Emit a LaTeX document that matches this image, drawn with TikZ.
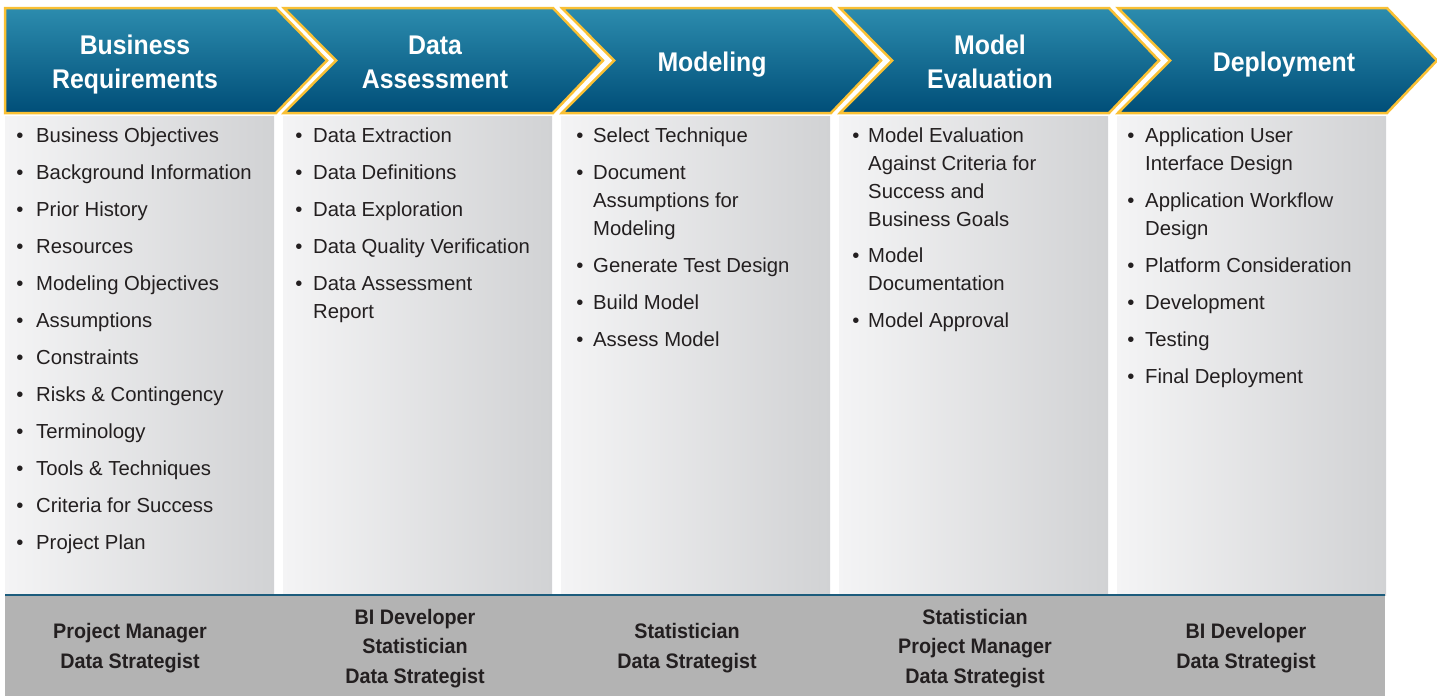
\documentclass[tikz,border=0pt]{standalone}
\usepackage{fontspec}
\setmainfont{Liberation Sans}
\definecolor{chevtop}{RGB}{44,140,174}
\definecolor{chevbot}{RGB}{0,78,120}
\definecolor{chevline}{RGB}{249,192,52}
\definecolor{colleft}{RGB}{244,244,245}
\definecolor{colright}{RGB}{209,210,212}
\definecolor{bandgray}{RGB}{179,179,179}
\definecolor{bandline}{RGB}{28,92,124}
\definecolor{inktext}{RGB}{35,31,32}
\newcommand{\toplines}[1]{\begin{tabular}[t]{@{}l@{}}#1\end{tabular}}
\tikzset{
  head/.style={text=white,font=\fontsize{27}{34}\selectfont\bfseries,align=center,xscale=0.92},
  item/.style={text=inktext,font=\fontsize{20.3}{28}\selectfont,anchor=base west,inner sep=0pt},
  dot/.style={text=inktext,font=\fontsize{20.3}{28}\selectfont,anchor=base,inner sep=0pt},
  role/.style={text=inktext,font=\fontsize{21}{29.5}\selectfont\bfseries,align=center,xscale=0.94},
  chev/.style={top color=chevtop,bottom color=chevbot,draw=chevline,line width=2.5pt,line join=miter},
}
\begin{document}
\begin{tikzpicture}[x=1pt,y=-1pt]
\useasboundingbox (0,0) rectangle (1437,696);
% grey columns
\foreach \i in {0,...,4}
  \shade[left color=colleft,right color=colright] (5+278*\i,116) rectangle (274+278*\i,595);
% bottom band
\fill[bandgray] (5,596) rectangle (1385,696);
\draw[bandline,line width=2.5pt] (5,595) -- (1385,595);
% chevrons
\shadedraw[chev] (5,8) -- (276,8) -- (327,60.5) -- (276,113) -- (5,113) -- cycle;
\foreach \i in {1,...,4}
  \shadedraw[chev] (6+278*\i,8) -- (275+278*\i,8) -- (325+278*\i,60.5) -- (275+278*\i,113)
    -- (6+278*\i,113) -- (58+278*\i,60.5) -- cycle;
% headings
\node[head] (br) at (135,65) {Business\\Requirements};
\node[head] (da) at (435,62) {Data\\Assessment};
\node[head] (mo) at (712,65) {Modeling};
\node[head] (me) at (990,62) {Model\\Evaluation};
\node[head] (de) at (1284,65) {Deployment};
% column 1
\foreach \t [count=\k from 0] in {Business Objectives,Background Information,Prior History,Resources,
    Modeling Objectives,Assumptions,Constraints,Risks \& Contingency,Terminology,
    Tools \& Techniques,Criteria for Success,Project Plan}{
  \node[dot] (bd\k) at (20,142.5+37*\k) {\textbullet};
  \node[item] (bi\k) at (36,142.5+37*\k) {\t};
}
% column 2
\foreach \y/\t [count=\k] in {135/Data Extraction,172/Data Definitions,209/Data Exploration,
    246/Data Quality Verification,283/Data Assessment\\Report}{
  \node[dot] (dd\k) at (299,\y+7.5) {\textbullet};
  \node[item] (di\k) at (313,\y+7.5) {\toplines{\t}};
}
% column 3
\foreach \y/\t [count=\k] in {135/Select Technique,172/Document\\Assumptions for\\Modeling,
    265/Generate Test Design,302/Build Model,339/Assess Model}{
  \node[dot] (md\k) at (580,\y+7.5) {\textbullet};
  \node[item] (mi\k) at (593,\y+7.5) {\toplines{\t}};
}
% column 4
\foreach \y/\t [count=\k] in {135/Model Evaluation\\Against Criteria for\\Success and\\Business Goals,
    255/Model\\Documentation,320/Model Approval}{
  \node[dot] (ed\k) at (856,\y+7.5) {\textbullet};
  \node[item] (ei\k) at (868,\y+7.5) {\toplines{\t}};
}
% column 5
\foreach \y/\t [count=\k] in {135/Application User\\Interface Design,200/Application Workflow\\Design,
    265/Platform Consideration,302/Development,339/Testing,376/Final Deployment}{
  \node[dot] (pd\k) at (1131,\y+7.5) {\textbullet};
  \node[item] (pi\k) at (1145,\y+7.5) {\toplines{\t}};
}
% roles
\node[role] (r1) at (130,648) {Project Manager\\Data Strategist};
\node[role] (r2) at (415,648.5) {BI Developer\\Statistician\\Data Strategist};
\node[role] (r3) at (687,648) {Statistician\\Data Strategist};
\node[role] (r4) at (975,648.5) {Statistician\\Project Manager\\Data Strategist};
\node[role] (r5) at (1246,648) {BI Developer\\Data Strategist};
\end{tikzpicture}
\end{document}
